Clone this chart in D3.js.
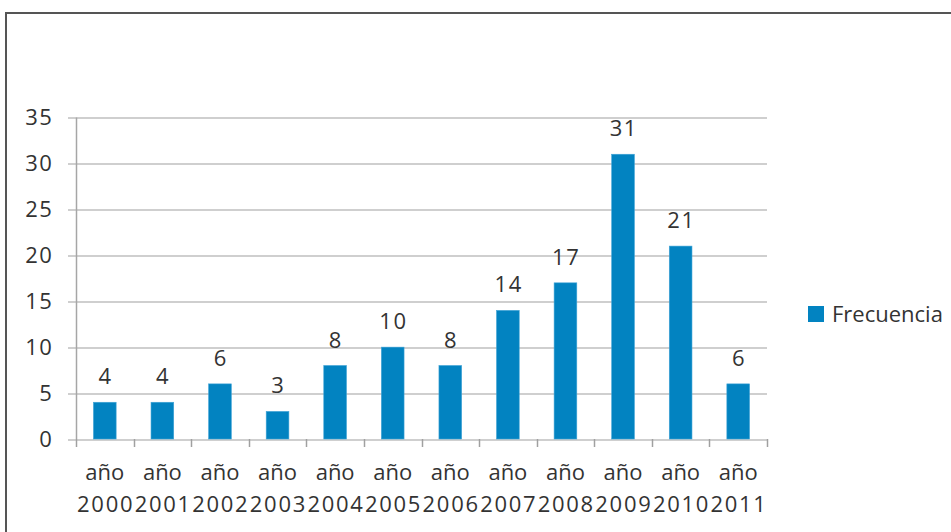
<!DOCTYPE html>
<meta charset="utf-8">
<head>
<title>Frecuencia por año</title>
<style>
  body { margin: 0; background: #fff; }
  text { font-family: "Open Sans", sans-serif; fill: #333; }
</style>
</head>
<body>
<div id="chart"></div>
<script src="https://d3js.org/d3.v7.min.js"></script>
<script>

var years = ["2000", "2001", "2002", "2003", "2004", "2005", "2006", "2007", "2008", "2009", "2010", "2011"];
var frecuencia = [4, 4, 6, 3, 8, 10, 8, 14, 17, 31, 21, 6];
var yTicks = [0, 5, 10, 15, 20, 25, 30, 35];
var seriesName = "Frecuencia";

var W = 951, H = 532;
var margin = {top: 117.5, left: 76, right: 184, bottom: 93};
var width = W - margin.left - margin.right,
    height = H - margin.top - margin.bottom;

var svg = d3.select("#chart")
  .append("svg")
    .attr("width", W)
    .attr("height", H);

// outer frame (only top and left visible)
svg.append("path")
  .attr("d", "M6,540 L6,13 L960,13")
  .attr("fill", "none")
  .attr("stroke", "#555")
  .attr("stroke-width", 2);

var g = svg.append("g")
  .attr("transform", "translate(" + margin.left + "," + margin.top + ")");

var x = d3.scaleBand()
  .domain(years)
  .range([0, width])
  .paddingInner(0.606)
  .paddingOuter(0.303);

var y = d3.scaleLinear()
  .domain([0, 35])
  .range([height, 0]);

// gridlines
g.append("g")
  .selectAll("line")
  .data(yTicks)
  .enter().append("line")
    .attr("x1", -8)
    .attr("x2", width)
    .attr("y1", function(d) { return Math.round(y(d)) + 0.5; })
    .attr("y2", function(d) { return Math.round(y(d)) + 0.5; })
    .attr("stroke", "#a0a0a0")
    .attr("stroke-width", 1.2);

// y axis line + labels
g.append("line")
  .attr("x1", 0.5).attr("x2", 0.5)
  .attr("y1", 0).attr("y2", height)
  .attr("stroke", "#a6a6a6")
  .attr("stroke-width", 1.5);

g.append("g")
  .selectAll("text")
  .data(yTicks)
  .enter().append("text")
    .attr("x", -22.5)
    .attr("y", function(d) { return y(d); })
    .attr("dy", "0.36em")
    .attr("text-anchor", "end")
    .style("font-size", "22px")
    .style("letter-spacing", "1.6px")
    .text(function(d) { return d; });

// x axis category ticks
var bw = width / years.length;
g.append("g")
  .selectAll("line")
  .data(d3.range(years.length + 1))
  .enter().append("line")
    .attr("x1", function(i) { return Math.round(i * bw) + 0.5; })
    .attr("x2", function(i) { return Math.round(i * bw) + 0.5; })
    .attr("y1", height)
    .attr("y2", height + 8)
    .attr("stroke", "#a0a0a0")
    .attr("stroke-width", 1.5);

// bars
g.append("g")
  .selectAll("rect")
  .data(frecuencia)
  .enter().append("rect")
    .attr("x", function(d, i) { return x(years[i]); })
    .attr("y", function(d) { return y(d); })
    .attr("width", x.bandwidth())
    .attr("height", function(d) { return height - y(d); })
    .attr("fill", "#0283c1")
    .attr("stroke", "#3fa3d6")
    .attr("stroke-width", 0.6);

// value labels
g.append("g")
  .selectAll("text")
  .data(frecuencia)
  .enter().append("text")
    .attr("x", function(d, i) { return x(years[i]) + x.bandwidth() / 2 + 0.8; })
    .attr("y", function(d) { return y(d) - 18; })
    .attr("text-anchor", "middle")
    .style("font-size", "22px")
    .style("letter-spacing", "1.6px")
    .text(function(d) { return d; });

// category labels (two lines)
var cat = g.append("g")
  .selectAll("g")
  .data(years)
  .enter().append("g")
    .attr("transform", function(d) { return "translate(" + (x(d) + x.bandwidth() / 2) + "," + height + ")"; });
cat.append("text")
  .attr("y", 41)
  .attr("text-anchor", "middle")
  .style("font-size", "22px")
  .text("año");
cat.append("text")
  .attr("x", 0.85)
  .attr("y", 73)
  .attr("text-anchor", "middle")
  .style("font-size", "22px")
  .style("letter-spacing", "1.7px")
  .text(function(d) { return d; });

// legend
var legend = svg.append("g")
  .attr("transform", "translate(808,306)");
legend.append("rect")
  .attr("width", 16)
  .attr("height", 16)
  .attr("fill", "#0283c1");
legend.append("text")
  .attr("x", 24)
  .attr("y", 15.5)
  .style("font-size", "22px")
  .text(seriesName);

</script>
</body>
